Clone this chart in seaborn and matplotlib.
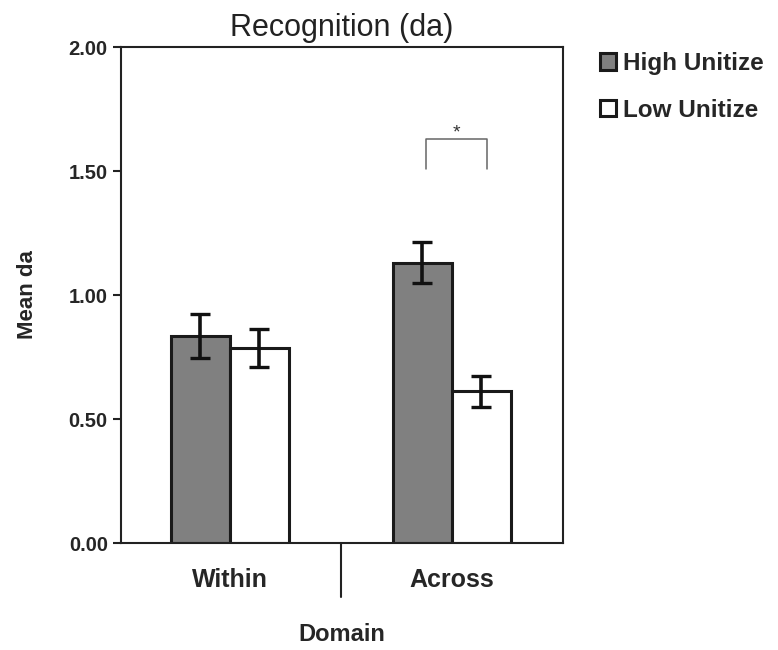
import pandas as pd
import seaborn as sns
import matplotlib.pyplot as plt

# data
domains = ['Within', 'Across']
conditions = ['High Unitize', 'Low Unitize']
high_means = [0.835, 1.130]
low_means = [0.786, 0.612]
high_sem = [0.088, 0.083]
low_sem = [0.078, 0.063]
y_ticks = [0.0, 0.5, 1.0, 1.5, 2.0]

df = pd.DataFrame({
    'Domain': domains * 2,
    'Condition': [conditions[0]] * 2 + [conditions[1]] * 2,
    'Mean': high_means + low_means,
})
sems = {conditions[0]: high_sem, conditions[1]: low_sem}

sns.set_style('white')
plt.rcParams['font.family'] = ['Liberation Sans', 'DejaVu Sans']

fig = plt.figure(figsize=(7.78, 6.5), dpi=100)
ax = fig.add_axes([0.1555, 0.1646, 0.568, 0.763])

sns.barplot(data=df, x='Domain', y='Mean', hue='Condition', order=domains,
            hue_order=conditions, palette={'High Unitize': '#808080', 'Low Unitize': 'white'},
            edgecolor='#1a1a1a', linewidth=2.2, width=0.53, errorbar=None,
            legend=False, ax=ax)

# error bars on top of each bar
bar_groups = list(ax.containers)
for cond, cont in zip(conditions, bar_groups):
    xs = [b.get_x() + b.get_width() / 2 for b in cont]
    ys = [b.get_height() for b in cont]
    ax.errorbar(xs, ys, yerr=sems[cond], fmt='none', ecolor='#111111',
                elinewidth=2.6, capsize=7, capthick=2.4, zorder=5)

ax.set_xlim(-0.49, 1.5)
ax.set_ylim(0, 2)
ax.set_yticks(y_ticks)
ax.set_yticklabels([f'{v:.2f}' for v in y_ticks], fontsize=14.5, fontweight='bold')
ax.set_xticks([0, 1])
ax.set_xticklabels(domains, fontsize=18, fontweight='bold')
ax.tick_params(axis='x', which='major', length=0, pad=18)
ax.set_xticks([-0.49, 1.5], minor=True)
ax.tick_params(axis='x', which='minor', length=6, width=1.5, color='#222222', direction='out')
ax.tick_params(axis='y', length=6, width=1.5, color='#222222', direction='out', pad=3.5,
               left=True)

for sp in ax.spines.values():
    sp.set_visible(True)
    sp.set_linewidth(1.5)
    sp.set_color('#222222')

# category divider below the axis
ax.plot([0.5, 0.5], [0, -0.109], transform=ax.get_xaxis_transform(),
        color='#222222', linewidth=1.5, clip_on=False)

# significance bracket
ax.plot([0.883, 0.883, 1.158, 1.158], [1.508, 1.629, 1.629, 1.508],
        color='#666666', linewidth=1.1)
ax.text(1.02, 1.621, '*', ha='center', va='bottom', fontsize=14, color='#333333')

ax.set_title('Recognition (da)', fontsize=22, pad=8, color='#222222')
ax.set_xlabel('Domain', fontsize=17, fontweight='bold', labelpad=22)
ax.set_ylabel('Mean da', fontsize=16, fontweight='bold', labelpad=22)

handles = [cont.patches[0] for cont in bar_groups]
ax.legend(handles, conditions, loc='upper left', bbox_to_anchor=(1.084, 0.99),
          frameon=False, borderaxespad=0, borderpad=0, handlelength=0.65,
          handleheight=0.65, handletextpad=0.3, labelspacing=0.97,
          prop={'size': 17.5, 'weight': 'bold'})

plt.savefig('out.png', dpi=100)
plt.close()
